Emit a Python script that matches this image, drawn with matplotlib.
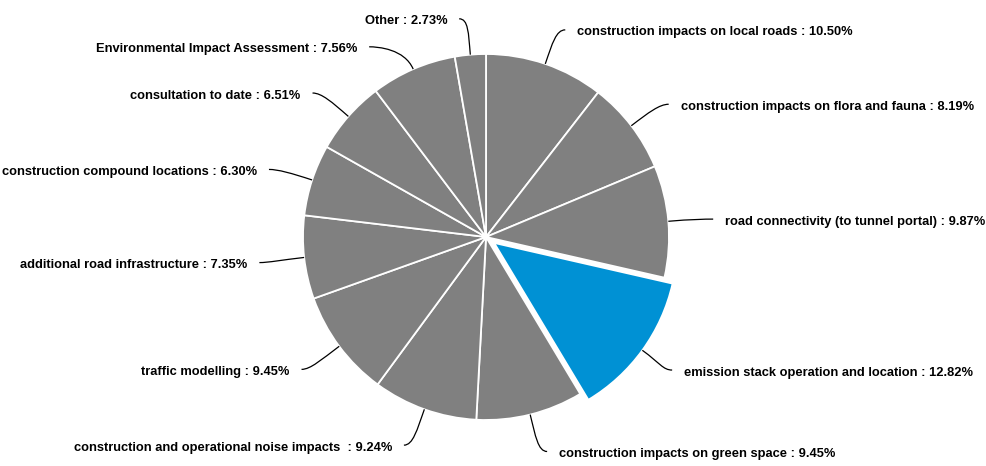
import matplotlib.pyplot as plt
import numpy as np
from matplotlib.path import Path
from matplotlib.patches import PathPatch

plt.rcParams['font.family'] = ['Liberation Sans', 'DejaVu Sans']

labels = ['construction impacts on local roads', 'construction impacts on flora and fauna',
          'road connectivity (to tunnel portal)', 'emission stack operation and location',
          'construction impacts on green space', 'construction and operational noise impacts ',
          'traffic modelling', 'additional road infrastructure', 'construction compound locations',
          'consultation to date', 'Environmental Impact Assessment', 'Other']
values = [10.50, 8.19, 9.87, 12.82, 9.45, 9.24, 9.45, 7.35, 6.30, 6.51, 7.56, 2.73]
highlight = 'emission stack operation and location'

gray = '#808080'
blue = '#0091d4'
colors = [blue if l == highlight else gray for l in labels]
explode = [0.055 if l == highlight else 0 for l in labels]

W, H = 987, 466
R = 183.0
cx, cy = 486, 229

fig = plt.figure(figsize=(W / 100, H / 100), dpi=100)
ax = fig.add_axes([0, 0, 1, 1])

ax.pie(values, colors=colors, explode=explode, startangle=90, counterclock=False,
       radius=1, center=(0, 0), frame=True,
       wedgeprops=dict(edgecolor='white', linewidth=1.3))
ax.set_xlim(-cx / R, (W - cx) / R)
ax.set_ylim(-cy / R, (H - cy) / R)
ax.set_aspect('equal')
ax.axis('off')

# label positions on a circle around the pie, pushed apart where they crowd
RL = 220 / R
gap = 28 / R
total = sum(values)
cum = np.cumsum([0] + values)
mids = [np.deg2rad((cum[i] + v / 2) / total * 360) for i, v in enumerate(values)]
anchors = {}
for side in (1, -1):
    idx = [i for i, m in enumerate(mids) if np.sign(np.sin(m)) == side]
    idx.sort(key=lambda i: -np.cos(mids[i]))
    prev = None
    for i in idx:
        x, y = RL * np.sin(mids[i]), RL * np.cos(mids[i])
        if prev is not None and prev - y < gap:
            y = prev - gap
            x = side * np.sqrt(max(RL ** 2 - y ** 2, 0))
        anchors[i] = (x + side * 8 / R, y - 3.5 / R)
        prev = y

for i, (lab, v) in enumerate(zip(labels, values)):
    s, c = np.sin(mids[i]), np.cos(mids[i])
    ox, oy = explode[i] * s, explode[i] * c
    p0 = (ox + s, oy + c)
    p1 = (ox + 1.12 * s, oy + 1.12 * c)
    side = 1 if s >= 0 else -1
    ty = anchors[i][1] + oy * 0.5
    end = (anchors[i][0], ty + 2.5 / R)
    p2 = (end[0] - side * 0.05, end[1])
    path = Path([p0, p1, p2, end], [Path.MOVETO, Path.CURVE4, Path.CURVE4, Path.CURVE4])
    ax.add_patch(PathPatch(path, fill=False, edgecolor='black', linewidth=0.9))
    ax.text(end[0] + side * 12 / R, ty, f'{lab} : {v:.2f}%',
            ha='left' if side > 0 else 'right', va='center',
            fontsize=9.3, fontweight='bold', color='black')

fig.savefig('out.png', dpi=100, facecolor='white')
